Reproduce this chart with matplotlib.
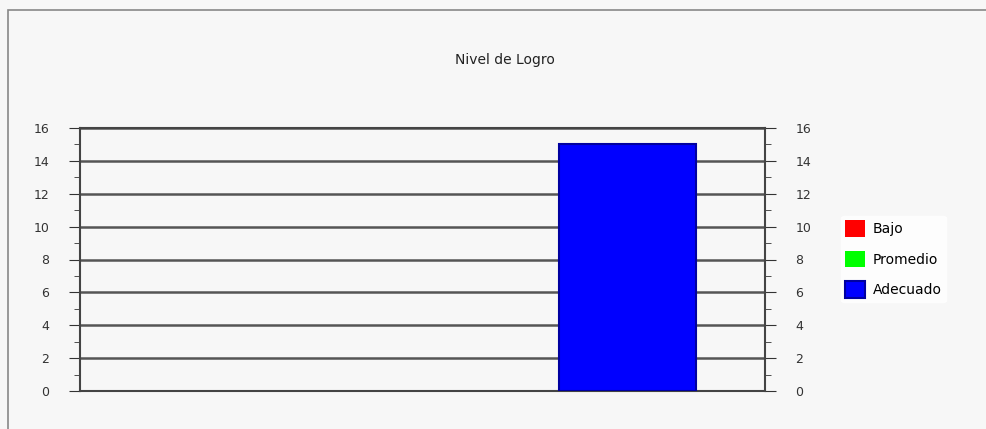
import matplotlib
matplotlib.use("Agg")
import matplotlib.pyplot as plt
from matplotlib.patches import Rectangle

title = "Nivel de Logro"
series_names = ["Bajo", "Promedio", "Adecuado"]
series_values = [0, 0, 15]
series_colors = ["#ff0000", "#00ff00", "#0000ff"]
yticks = [0, 2, 4, 6, 8, 10, 12, 14, 16]

fig = plt.figure(figsize=(9.86, 4.29), dpi=100)
fig.patch.set_facecolor("#f7f7f7")
fig.patches.append(Rectangle((8/986, -0.01), 1.0, 1 - 10/429 + 0.01, transform=fig.transFigure,
                             fill=False, edgecolor="#888888", linewidth=1.2))

ax = fig.add_axes([80/986, 1 - 391/429, (765 - 80)/986, (391 - 128)/429])
ax.set_facecolor("#f7f7f7")
x = list(range(len(series_names)))
for xi, v, c, n in zip(x, series_values, series_colors, series_names):
    ax.bar(xi, v, width=0.667, color=c, edgecolor="#0000a0",
           linewidth=1.5 if v else 0, label=n, zorder=3)
ax.set_xlim(-0.667, 2.667)
ax.set_ylim(0, 16)
ax.set_yticks(yticks)
ax.set_yticks(range(1, 16, 2), minor=True)
ax.set_xticks([])
ax.yaxis.grid(True, color="#555555", linewidth=1.8, zorder=1)
ax.tick_params(axis="y", which="both", left=True, right=True, labelleft=True, labelright=True,
               direction="out", length=8, labelsize=9, colors="#333333", pad=14)
ax.tick_params(axis="y", which="minor", length=4)
for s in ax.spines.values():
    s.set_color("#444444")
    s.set_linewidth(1.5)

fig.text(505/986, 1 - 60/429, title, ha="center", va="center", fontsize=10, color="#222222")

handles, labels = ax.get_legend_handles_labels()
leg = fig.legend(handles, labels, loc="center left", bbox_to_anchor=(834/986, 1 - 259/429),
                 frameon=True, fontsize=10, handlelength=1.4, handleheight=1.5,
                 labelspacing=1.0, handletextpad=0.6, borderpad=0.3)
leg.get_frame().set_facecolor("white")
leg.get_frame().set_edgecolor("white")

fig.savefig("out.png", dpi=100, facecolor=fig.get_facecolor())
